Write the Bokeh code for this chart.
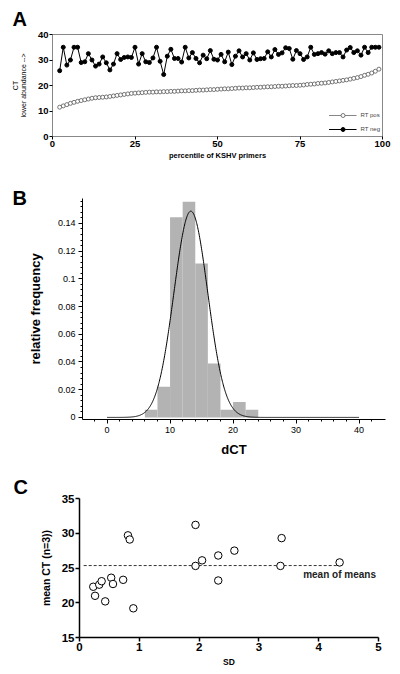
import numpy as np
from bokeh.plotting import figure
from bokeh.models import Range1d, Label, Legend, LegendItem, FixedTicker, Title
from bokeh.embed import file_html
from bokeh.resources import INLINE

FONT = "Liberation Sans"

# ---------------- Panel A data ----------------
rt_pos = [11.5, 12.0, 12.5, 13.0, 13.4, 13.8, 14.1, 14.4, 14.7, 15.0,
          15.2, 15.3, 15.4, 15.5, 15.7, 15.9, 16.1, 16.3, 16.5, 16.7,
          16.9, 17.0, 17.1, 17.2, 17.3, 17.4, 17.4, 17.5, 17.5, 17.6,
          17.6, 17.7, 17.7, 17.8, 17.9, 17.9, 18.0, 18.0, 18.1, 18.2,
          18.2, 18.3, 18.4, 18.4, 18.5, 18.6, 18.7, 18.7, 18.8, 18.9,
          19.0, 19.0, 19.1, 19.1, 19.2, 19.3, 19.3, 19.4, 19.5, 19.5,
          19.6, 19.7, 19.7, 19.8, 19.9, 20.0, 20.0, 20.1, 20.2, 20.4,
          20.5, 20.6, 20.8, 20.9, 21.0, 21.2, 21.4, 21.6, 21.8, 22.0,
          22.2, 22.5, 22.8, 23.1, 23.5, 24.0, 24.4, 24.9, 25.6, 26.4]
rt_neg = [25.8, 35.0, 28.0, 30.0, 35.0, 35.0, 29.0, 29.3, 32.5, 30.0,
          27.6, 28.4, 31.2, 28.9, 26.1, 28.4, 32.5, 30.2, 31.0, 31.2,
          31.0, 35.0, 28.4, 32.5, 29.3, 29.0, 30.8, 35.0, 29.5, 24.3,
          31.5, 34.2, 30.6, 30.6, 29.2, 35.0, 30.8, 32.9, 30.6, 28.9,
          31.9, 30.5, 33.7, 30.3, 30.0, 32.2, 29.3, 33.1, 28.2, 31.5,
          33.6, 31.2, 32.5, 30.0, 32.8, 30.2, 30.5, 30.6, 33.2, 31.2,
          34.1, 32.2, 32.8, 34.8, 34.5, 30.3, 33.7, 32.5, 30.2, 31.2,
          35.0, 32.2, 32.5, 32.9, 32.3, 33.6, 32.5, 32.9, 32.9, 31.2,
          33.9, 34.9, 32.9, 33.6, 31.9, 35.0, 32.9, 35.0, 35.0, 35.0]
n_primers = len(rt_pos)
percentile = [100.0 * (i + 2) / (n_primers + 2) for i in range(n_primers)]
a_xticks = [0, 25, 50, 75, 100]
a_yticks = [0, 10, 20, 30, 40]

# ---------------- Panel B data ----------------
hist_edges = [6, 8, 10, 12, 14, 16, 18, 20, 22, 24]
hist_freq = [0.0056, 0.0222, 0.1444, 0.1556, 0.1111, 0.0389, 0.0056, 0.0111, 0.0056]
fit_mean = 13.3
fit_sd = 2.68
b_xticks = [0, 10, 20, 30, 40]
b_yticks = [0, 0.02, 0.04, 0.06, 0.08, 0.1, 0.12, 0.14]
b_ylabels = {0: "0", 0.02: "0.02", 0.04: "0.04", 0.06: "0.06", 0.08: "0.08",
             0.1: "0.1", 0.12: "0.12", 0.14: "0.14"}

# ---------------- Panel C data ----------------
sd_vals = [0.23, 0.26, 0.33, 0.37, 0.43, 0.53, 0.56, 0.73, 0.81, 0.84,
           0.90, 1.94, 1.94, 2.05, 2.32, 2.32, 2.59, 3.38, 3.36, 4.35]
mean_ct = [22.3, 21.0, 22.6, 23.1, 20.2, 23.6, 22.7, 23.3, 29.7, 29.1,
           19.2, 31.2, 25.3, 26.1, 26.8, 23.2, 27.5, 29.3, 25.3, 25.8]
mean_of_means = 25.35
mean_line_sd = [0.07, 4.35]
c_xticks = [0, 1, 2, 3, 4, 5]
c_yticks = [15, 20, 25, 30, 35]


def style_common(p):
    p.xgrid.grid_line_color = None
    p.ygrid.grid_line_color = None
    p.background_fill_color = "white"
    p.border_fill_color = "white"
    for ax in (p.xaxis, p.yaxis):
        ax.major_label_text_font = FONT
        ax.axis_label_text_font = FONT
        ax.major_label_text_color = "black"
        ax.axis_label_text_color = "black"


def panel_letter(p, txt, offset, standoff):
    p.add_layout(Title(text=txt, align="left", offset=offset, standoff=standoff,
                       text_font=FONT, text_font_style="bold", text_font_size="20px",
                       text_color="black"), "above")


# ================= Panel A =================
pA = figure(width=400, height=162, min_border_left=52, min_border_right=18,
            min_border_top=34, min_border_bottom=26,
            x_range=Range1d(0, 100), y_range=Range1d(0, 40),
            output_backend="svg", toolbar_location=None)
style_common(pA)
lp = pA.line(percentile, rt_pos, line_color="#666666", line_width=0.8)
sp = pA.scatter(percentile, rt_pos, marker="circle", size=4, fill_color="white",
                line_color="#555555", line_width=0.8)
ln = pA.line(percentile, rt_neg, line_color="black", line_width=1)
sn = pA.scatter(percentile, rt_neg, marker="circle", size=4, fill_color="black",
                line_color="black")
leg = Legend(items=[LegendItem(label="RT pos", renderers=[lp, sp]),
                    LegendItem(label="RT neg", renderers=[ln, sn])],
             location="bottom_right", border_line_color=None, background_fill_alpha=0,
             label_text_font=FONT, label_text_font_size="6px", glyph_width=28,
             glyph_height=10, label_height=10, label_width=16, spacing=4,
             padding=1, margin=2, label_standoff=4)
pA.add_layout(leg)
pA.xaxis.ticker = FixedTicker(ticks=a_xticks)
pA.yaxis.ticker = FixedTicker(ticks=a_yticks)
for ax in (pA.xaxis, pA.yaxis):
    ax.major_label_text_font_style = "bold"
    ax.major_label_text_font_size = "9.5px"
    ax.major_tick_out = 3
    ax.major_tick_in = 0
    ax.minor_tick_out = 0
    ax.minor_tick_in = 0
    ax.major_label_standoff = 1
    ax.axis_line_color = "#888888"
pA.xaxis.axis_label_standoff = 1
pA.xaxis.axis_label = "percentile of KSHV primers"
pA.xaxis.axis_label_text_font_size = "7.5px"
pA.xaxis.axis_label_text_font_style = "bold"
pA.yaxis.axis_label = "CT\nlower abundance -->"
pA.yaxis.axis_label_text_font_size = "7px"
pA.yaxis.axis_label_text_font_style = "normal"
pA.yaxis.axis_label_standoff = 8
pA.outline_line_color = "#888888"
panel_letter(pA, "A", -40, 10)

# ================= Panel B =================
pB = figure(width=400, height=298, min_border_left=82, min_border_right=15,
            min_border_top=36, min_border_bottom=41,
            x_range=Range1d(-3.9, 44.2), y_range=Range1d(-0.0015, 0.158),
            output_backend="svg", toolbar_location=None)
style_common(pB)
pB.quad(left=hist_edges[:-1], right=hist_edges[1:], bottom=0, top=hist_freq,
        fill_color="#b3b3b3", line_color=None)
xs = np.linspace(0, 40, 801)
ys = np.exp(-0.5 * ((xs - fit_mean) / fit_sd) ** 2) / (fit_sd * np.sqrt(2 * np.pi))
pB.line(xs, ys, line_color="black", line_width=1)
pB.xaxis.ticker = FixedTicker(ticks=b_xticks, minor_ticks=list(np.arange(-2, 44, 2)))
pB.yaxis.ticker = FixedTicker(ticks=b_yticks, minor_ticks=list(np.round(np.arange(0, 0.158, 0.004), 3)))
pB.yaxis.major_label_overrides = b_ylabels
for ax in (pB.xaxis, pB.yaxis):
    ax.major_label_text_font_size = "9px"
    ax.major_label_text_font_style = "normal"
    ax.major_tick_out = 4
    ax.major_tick_in = 0
    ax.minor_tick_out = 2
    ax.minor_tick_in = 0
    ax.major_label_standoff = 3
    ax.axis_line_color = "black"
    ax.axis_label_text_font_size = "13px"
    ax.axis_label_text_font_style = "bold"
pB.xaxis.axis_label_standoff = 6
pB.yaxis.axis_label_standoff = 12
pB.xaxis.axis_label = "dCT"
pB.yaxis.axis_label = "relative frequency"
pB.outline_line_color = None
panel_letter(pB, "B", -70, -20)

# ================= Panel C =================
pC = figure(width=400, height=214, min_border_left=79, min_border_right=22,
            min_border_top=38, min_border_bottom=37,
            x_range=Range1d(0, 5), y_range=Range1d(15, 35),
            output_backend="svg", toolbar_location=None)
style_common(pC)
pC.line(mean_line_sd, [mean_of_means, mean_of_means], line_color="#333333",
        line_width=1, line_dash="3 2")
pC.scatter(sd_vals, mean_ct, marker="circle", size=7.5, fill_color="white",
           line_color="black", line_width=1)
pC.add_layout(Label(x=3.74, y=24.1, text="mean of means", text_font=FONT,
                    text_font_style="bold", text_font_size="10px",
                    text_baseline="middle", text_align="left", text_color="#222222"))
pC.xaxis.ticker = FixedTicker(ticks=c_xticks)
pC.yaxis.ticker = FixedTicker(ticks=c_yticks)
for ax in (pC.xaxis, pC.yaxis):
    ax.major_label_text_font_size = "11.5px"
    ax.major_label_text_font_style = "bold"
    ax.major_tick_out = 4
    ax.major_tick_in = 0
    ax.minor_tick_out = 0
    ax.minor_tick_in = 0
    ax.major_label_standoff = 1
    ax.axis_line_color = "black"
    ax.axis_line_width = 1.5
    ax.major_tick_line_width = 1.5
    ax.axis_label_text_font_style = "bold"
pC.xaxis.axis_label_standoff = 3
pC.xaxis.axis_label = "SD"
pC.xaxis.axis_label_text_font_size = "8.5px"
pC.yaxis.axis_label = "mean CT (n=3))"
pC.yaxis.axis_label_text_font_size = "10.5px"
pC.yaxis.axis_label_standoff = 7
pC.outline_line_color = None
panel_letter(pC, "C", -66, 2)

open("out.html", "w").write(file_html([pA, pB, pC], INLINE))
